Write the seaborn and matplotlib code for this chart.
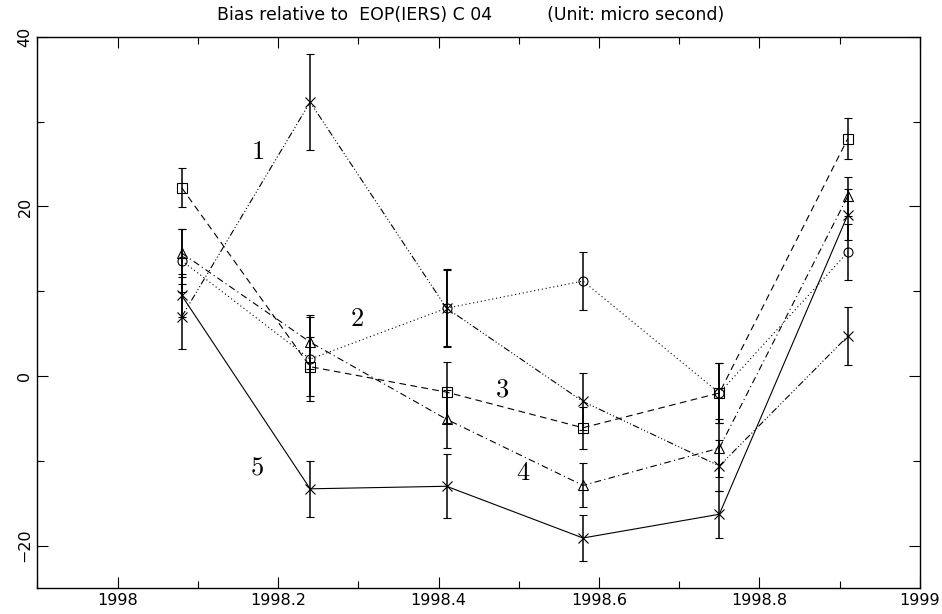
import numpy as np
import pandas as pd
import matplotlib
matplotlib.use("Agg")
import matplotlib.pyplot as plt
import seaborn as sns
from matplotlib.ticker import MultipleLocator

epochs = [1998.08, 1998.24, 1998.41, 1998.58, 1998.75, 1998.91]

s1_val = [7.0, 32.3, 8.0, -3.0, -10.6, 4.7]
s1_err = [3.8, 5.7, 4.6, 3.4, 3.0, 3.4]
s2_val = [13.6, 2.0, 8.0, 11.2, -2.0, 14.6]
s2_err = [3.7, 5.0, 4.5, 3.4, 3.5, 3.3]
s3_val = [22.2, 1.1, -1.9, -6.1, -2.0, 28.0]
s3_err = [2.3, 3.5, 3.6, 2.5, 3.5, 2.4]
s4_val = [14.5, 4.0, -5.1, -12.9, -8.5, 21.2]
s4_err = [2.8, 3.2, 3.4, 2.6, 3.4, 2.3]
s5_val = [9.5, -13.3, -13.0, -19.1, -16.3, 19.0]
s5_err = [2.5, 3.3, 3.8, 2.7, 2.8, 3.0]

series_names = ["1", "2", "3", "4", "5"]
label_x = [1998.174, 1998.298, 1998.479, 1998.506, 1998.174]
label_y = [26.4, 6.7, -1.6, -11.4, -10.8]

title_text = "Bias relative to  EOP(IERS) C 04          (Unit: micro second)"
xticks = [1998, 1998.2, 1998.4, 1998.6, 1998.8, 1999]
xticklabels = ["1998", "1998.2", "1998.4", "1998.6", "1998.8", "1999"]
yticks = [-20, 0, 20, 40]

vals = [s1_val, s2_val, s3_val, s4_val, s5_val]
errs = [s1_err, s2_err, s3_err, s4_err, s5_err]

sns.set_theme(style="ticks")
plt.rcParams["font.family"] = ["DejaVu Sans"]
plt.rcParams["text.color"] = "black"
plt.rcParams["xtick.color"] = "black"
plt.rcParams["ytick.color"] = "black"
plt.rcParams["mathtext.fontset"] = "cm"

fig = plt.figure(figsize=(9.42, 6.14), dpi=100)
ax = fig.add_axes([0.0396, 0.0423, 0.9370, 0.8977])

styles = [
    dict(ls=(0, (6, 2, 1, 2, 1, 2, 1, 2)), marker="x"),
    dict(ls=(0, (1, 2.5)), marker="o"),
    dict(ls=(0, (6, 4)), marker="s"),
    dict(ls=(0, (6, 3, 1, 3)), marker="^"),
    dict(ls="-", marker="x"),
]

rows = []
for name, v in zip(series_names, vals):
    for x, y in zip(epochs, v):
        rows.append(dict(series=name, epoch=x, bias=y))
df = pd.DataFrame(rows)

for i, name in enumerate(series_names):
    sub = df[df.series == name]
    st = styles[i]
    sns.lineplot(data=sub, x="epoch", y="bias", ax=ax, color="black",
                 lw=0.8, linestyle=st["ls"], marker=st["marker"],
                 markersize=6.5, markerfacecolor="none", markeredgecolor="black",
                 markeredgewidth=0.8, legend=False)
    ax.errorbar(epochs, vals[i], yerr=errs[i], fmt="none", ecolor="black",
                elinewidth=1.1, capsize=3, capthick=0.8)
    ax.text(label_x[i], label_y[i], "$" + name + "$", fontsize=19,
            ha="center", va="center", color="black")

ax.set_xlim(1997.9, 1999.0)
ax.set_ylim(-25, 40)
ax.set_xticks(xticks)
ax.set_xticklabels(xticklabels)
ax.set_yticks(yticks)
ax.xaxis.set_minor_locator(MultipleLocator(0.1))
ax.yaxis.set_minor_locator(MultipleLocator(10))
ax.tick_params(which="both", direction="in", top=True, right=True,
               labelsize=11.5, color="black", labelcolor="black", width=0.8)
ax.tick_params(which="major", length=8)
ax.tick_params(which="minor", length=5)
for lab in ax.get_yticklabels():
    lab.set_rotation(90)
    lab.set_va("center")
ax.set_xlabel("")
ax.set_ylabel("")
for sp in ax.spines.values():
    sp.set_linewidth(1.0)
    sp.set_color("black")
fig.text(0.5, 0.975, title_text, ha="center", va="center", fontsize=12.5,
         color="black")

fig.savefig("out.png", dpi=100)
